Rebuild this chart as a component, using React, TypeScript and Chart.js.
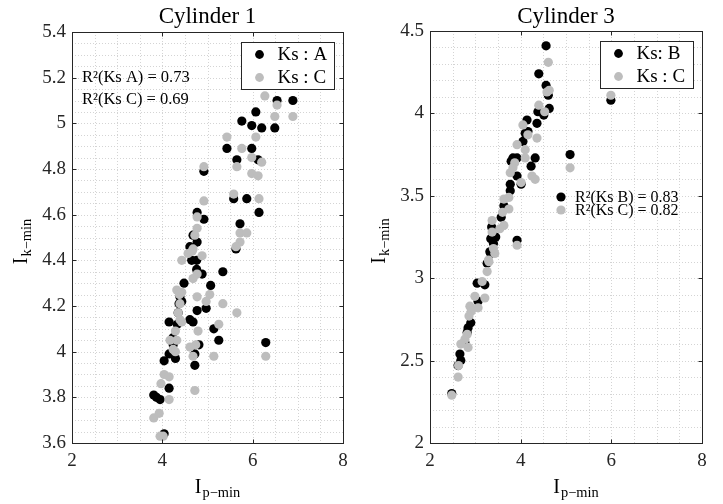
import React, { useEffect, useRef } from "react";
import { Chart, registerables } from "chart.js";

Chart.register(...registerables);

const FONT = "'Liberation Serif', 'DejaVu Serif', serif";
Chart.defaults.font.family = FONT;
const TEXT = "#262626";
const BLACK = "#000000";
const GRAY = "#bdbdbd";

// ---------- Cylinder 1 ----------
const cyl1TitleText = "Cylinder 1";
const cyl1KsA_x = [6.54, 6.89, 6.07, 5.76, 5.98, 6.2, 6.49, 5.43, 5.98, 5.65, 6.12, 4.92, 5.58, 5.87, 6.14, 4.77, 4.92, 5.72, 4.68, 4.61, 4.77, 5.63, 4.65, 4.76, 4.76, 5.34, 4.88, 4.48, 5.07, 4.39, 4.43, 4.37, 4.97, 4.77, 4.35, 4.61, 4.15, 4.68, 4.33, 5.14, 4.23, 5.25, 4.81, 6.29, 4.24, 4.15, 4.72, 4.29, 4.04, 4.72, 4.15, 3.81, 3.95, 3.87, 4.04];
const cyl1KsA_y = [5.1, 5.1, 5.05, 5.01, 4.99, 4.98, 4.98, 4.89, 4.89, 4.84, 4.84, 4.79, 4.67, 4.67, 4.61, 4.61, 4.58, 4.56, 4.51, 4.46, 4.48, 4.45, 4.4, 4.4, 4.36, 4.35, 4.34, 4.3, 4.29, 4.24, 4.22, 4.21, 4.19, 4.18, 4.17, 4.14, 4.13, 4.13, 4.12, 4.1, 4.06, 4.05, 4.03, 4.04, 4.03, 3.99, 3.99, 3.97, 3.96, 3.94, 3.84, 3.81, 3.79, 3.8, 3.64];
const cyl1KsC_x = [6.27, 6.54, 6.49, 6.89, 5.43, 6.07, 5.76, 5.98, 6.2, 5.65, 4.92, 5.98, 6.12, 5.58, 6.14, 4.92, 4.77, 5.72, 5.87, 4.77, 4.72, 5.72, 5.63, 4.68, 4.57, 4.43, 4.88, 4.66, 4.68, 4.77, 4.32, 4.43, 4.38, 5.05, 4.77, 4.97, 5.34, 4.39, 5.65, 4.35, 4.39, 4.43, 5.25, 4.29, 4.79, 4.17, 4.32, 4.74, 4.61, 4.24, 4.29, 5.14, 4.68, 6.29, 4.04, 4.15, 3.97, 4.72, 4.15, 3.93, 3.81, 3.95, 4.02];
const cyl1KsC_y = [5.12, 5.08, 5.03, 5.03, 4.94, 4.94, 4.89, 4.85, 4.83, 4.81, 4.81, 4.78, 4.77, 4.69, 4.67, 4.66, 4.59, 4.52, 4.52, 4.54, 4.51, 4.48, 4.46, 4.45, 4.43, 4.4, 4.42, 4.44, 4.32, 4.34, 4.27, 4.26, 4.25, 4.25, 4.24, 4.22, 4.21, 4.21, 4.17, 4.17, 4.14, 4.13, 4.12, 4.09, 4.09, 4.05, 4.05, 4.03, 4.02, 4.01, 4.0, 3.98, 3.98, 3.98, 3.9, 3.89, 3.86, 3.83, 3.79, 3.73, 3.71, 3.63, 3.63];
const cyl1Legend = ["Ks : A", "Ks : C"];
const cyl1Notes = ["R\u00b2(Ks A) = 0.73", "R\u00b2(Ks C) = 0.69"];

// ---------- Cylinder 3 ----------
const cyl3TitleText = "Cylinder 3";
const cyl3KsB_x = [4.56, 4.4, 4.56, 4.61, 4.63, 4.51, 4.38, 5.99, 4.14, 4.36, 4.16, 4.1, 4.05, 5.09, 3.83, 3.92, 4.32, 3.79, 4.23, 3.92, 4.01, 3.77, 3.77, 3.63, 3.57, 3.36, 3.34, 3.45, 3.92, 3.4, 3.32, 3.26, 3.34, 3.04, 3.21, 3.06, 2.9, 2.84, 2.82, 2.77, 2.66, 2.68, 2.62, 2.48];
const cyl3KsB_y = [4.41, 4.24, 4.17, 4.11, 4.03, 3.99, 4.01, 4.08, 3.96, 3.94, 3.89, 3.88, 3.83, 3.75, 3.73, 3.73, 3.73, 3.71, 3.68, 3.62, 3.57, 3.57, 3.53, 3.44, 3.37, 3.31, 3.24, 3.25, 3.23, 3.21, 3.16, 3.09, 3.15, 2.97, 2.96, 2.86, 2.73, 2.7, 2.67, 2.61, 2.54, 2.5, 2.47, 2.3];
const cyl3KsC_x = [4.61, 4.58, 4.63, 5.99, 4.4, 4.53, 4.05, 4.16, 4.36, 3.92, 4.1, 5.09, 4.1, 3.87, 3.83, 3.77, 4.25, 4.32, 4.01, 3.74, 3.63, 3.74, 3.6, 3.63, 3.54, 3.37, 3.37, 3.92, 3.4, 3.29, 3.43, 3.3, 3.26, 3.15, 2.99, 3.21, 3.06, 2.88, 2.91, 2.86, 2.82, 2.77, 2.68, 2.84, 2.63, 2.62, 2.48];
const cyl3KsC_y = [4.31, 4.13, 4.14, 4.11, 4.05, 4.01, 3.93, 3.87, 3.85, 3.81, 3.78, 3.67, 3.73, 3.7, 3.67, 3.64, 3.62, 3.6, 3.58, 3.49, 3.48, 3.42, 3.4, 3.32, 3.3, 3.35, 3.28, 3.2, 3.18, 3.11, 3.15, 3.1, 3.04, 2.98, 2.89, 2.88, 2.82, 2.83, 2.8, 2.77, 2.66, 2.63, 2.6, 2.58, 2.47, 2.4, 2.29];
const cyl3Legend = ["Ks: B", "Ks : C"];
const cyl3Notes = ["R\u00b2(Ks B) = 0.83", "R\u00b2(Ks C) = 0.82"];

// ---------- shared axis text ----------
const xAxisMain = "I";
const xAxisSub = "p\u2212min";
const yAxisMain = "I";
const yAxisSub = "k\u2212min";

type Panel = {
  title: string;
  xs: number[][];
  ys: number[][];
  legend: string[];
  notes: string[];
  notesWithMarkers: boolean;
  yMin: number;
  yMax: number;
  yMajor: number;
  yMinor: number;
  canvasLeft: number;
  canvasWidth: number;
  areaLeft: number;
  areaRight: number;
  areaTop: number;
};

function toPoints(xs: number[], ys: number[]) {
  return xs.map((x, i) => ({ x, y: ys[i] }));
}

function drawSub(
  ctx: CanvasRenderingContext2D,
  main: string,
  sub: string,
  cx: number,
  baseline: number,
  size: number
) {
  ctx.font = `${size}px ${FONT}`;
  const wMain = ctx.measureText(main).width;
  ctx.font = `${size * 0.72}px ${FONT}`;
  const wSub = ctx.measureText(sub).width;
  const start = cx - (wMain + wSub + 1) / 2;
  ctx.textAlign = "left";
  ctx.textBaseline = "alphabetic";
  ctx.font = `${size}px ${FONT}`;
  ctx.fillText(main, start, baseline);
  ctx.font = `${size * 0.72}px ${FONT}`;
  ctx.fillText(sub, start + wMain + 1, baseline + size * 0.22);
}

function makeDecor(p: Panel) {
  return {
    id: "decor",
    beforeDatasetsDraw(chart: any) {
      const { ctx, chartArea } = chart;
      const xs = chart.scales.x;
      const ys = chart.scales.y;
      ctx.save();
      ctx.strokeStyle = "#d4d4d4";
      ctx.lineWidth = 1;
      ctx.setLineDash([1, 2]);
      for (let v = 2; v <= 8 + 1e-9; v += 0.5) {
        const px = Math.round(xs.getPixelForValue(v)) + 0.5;
        ctx.beginPath();
        ctx.moveTo(px, chartArea.top);
        ctx.lineTo(px, chartArea.bottom);
        ctx.stroke();
      }
      const n = Math.round((p.yMax - p.yMin) / p.yMinor);
      for (let i = 0; i <= n; i++) {
        const v = p.yMin + i * p.yMinor;
        const py = Math.round(ys.getPixelForValue(v)) + 0.5;
        ctx.beginPath();
        ctx.moveTo(chartArea.left, py);
        ctx.lineTo(chartArea.right, py);
        ctx.stroke();
      }
      ctx.restore();
    },
    afterDatasetsDraw(chart: any) {
      const { ctx, chartArea } = chart;
      const xs = chart.scales.x;
      const ys = chart.scales.y;
      const L = Math.round(chartArea.left) + 0.5;
      const R = Math.round(chartArea.right) + 0.5;
      const T = Math.round(chartArea.top) + 0.5;
      const B = Math.round(chartArea.bottom) + 0.5;
      ctx.save();
      ctx.setLineDash([]);
      ctx.strokeStyle = TEXT;
      ctx.lineWidth = 1;
      ctx.strokeRect(L, T, R - L, B - T);
      const tl = 4;
      for (let v = 2; v <= 8 + 1e-9; v += 2) {
        const px = Math.round(xs.getPixelForValue(v)) + 0.5;
        ctx.beginPath();
        ctx.moveTo(px, B);
        ctx.lineTo(px, B - tl);
        ctx.moveTo(px, T);
        ctx.lineTo(px, T + tl);
        ctx.stroke();
      }
      const nm = Math.round((p.yMax - p.yMin) / p.yMajor);
      for (let i = 0; i <= nm; i++) {
        const v = p.yMin + i * p.yMajor;
        const py = Math.round(ys.getPixelForValue(v)) + 0.5;
        ctx.beginPath();
        ctx.moveTo(L, py);
        ctx.lineTo(L + tl, py);
        ctx.moveTo(R, py);
        ctx.lineTo(R - tl, py);
        ctx.stroke();
      }

      // legend box
      const bw = 93;
      const bh = 47;
      const bx = Math.round(chartArea.right - 9 - bw) + 0.5;
      const by = Math.round(chartArea.top + 10) + 0.5;
      ctx.fillStyle = "#ffffff";
      ctx.fillRect(bx, by, bw, bh);
      ctx.strokeStyle = TEXT;
      ctx.strokeRect(bx, by, bw, bh);
      const colors = [BLACK, GRAY];
      ctx.font = `19px ${FONT}`;
      ctx.textAlign = "left";
      ctx.textBaseline = "middle";
      p.legend.forEach((label, i) => {
        const cy = by + 12 + i * 23;
        ctx.fillStyle = colors[i];
        ctx.beginPath();
        ctx.arc(bx + 18, cy, 4.4, 0, Math.PI * 2);
        ctx.fill();
        ctx.fillStyle = "#000";
        ctx.fillText(label, bx + 36, cy + 1);
      });

      // R^2 notes
      if (p.notesWithMarkers) {
        ctx.font = `16px ${FONT}`;
        p.notes.forEach((t, i) => {
          const cy = 197 + i * 13;
          ctx.fillStyle = colors[i];
          ctx.beginPath();
          ctx.arc(chartArea.left + 131, cy, 4.6, 0, Math.PI * 2);
          ctx.fill();
          ctx.fillStyle = "#000";
          ctx.fillText(t, chartArea.left + 145, cy + 1);
        });
      } else {
        ctx.font = `16.5px ${FONT}`;
        ctx.fillStyle = "#000";
        p.notes.forEach((t, i) => {
          ctx.fillText(t, chartArea.left + 10, 78 + i * 22);
        });
      }
      ctx.restore();
    },
    afterDraw(chart: any) {
      const { ctx, chartArea } = chart;
      const cx = (chartArea.left + chartArea.right) / 2;
      ctx.save();
      ctx.fillStyle = "#000";
      ctx.font = `23px ${FONT}`;
      ctx.textAlign = "center";
      ctx.textBaseline = "alphabetic";
      ctx.fillText(p.title, cx, 23);

      drawSub(ctx, xAxisMain, xAxisSub, cx + 10, 493, 20);

      const cy = (chartArea.top + chartArea.bottom) / 2;
      ctx.translate(chartArea.left - 45, cy + 4);
      ctx.rotate(-Math.PI / 2);
      drawSub(ctx, yAxisMain, yAxisSub, 0, 0, 20);
      ctx.restore();
    },
  };
}

function ScatterPanel({ p }: { p: Panel }) {
  const ref = useRef<HTMLCanvasElement | null>(null);
  useEffect(() => {
    if (!ref.current) return;
    const tickFont = { family: FONT, size: 19 };
    const chart = new Chart(ref.current, {
      type: "scatter",
      data: {
        datasets: [
          {
            label: p.legend[0],
            data: toPoints(p.xs[0], p.ys[0]),
            backgroundColor: BLACK,
            borderColor: BLACK,
            pointRadius: 4.6,
            borderWidth: 0,
            order: 2,
          },
          {
            label: p.legend[1],
            data: toPoints(p.xs[1], p.ys[1]),
            backgroundColor: GRAY,
            borderColor: GRAY,
            pointRadius: 4.6,
            borderWidth: 0,
            order: 1,
          },
        ],
      },
      options: {
        animation: false,
        responsive: false,
        maintainAspectRatio: false,
        events: [],
        layout: {
          padding: {
            top: p.areaTop,
            right: p.canvasWidth - p.areaRight,
            left: 0,
            bottom: 0,
          },
        },
        plugins: {
          legend: { display: false },
          tooltip: { enabled: false },
          title: { display: false },
        },
        scales: {
          x: {
            type: "linear",
            min: 2,
            max: 8,
            afterFit: (s: any) => {
              s.height = 504 - 443;
            },
            ticks: {
              stepSize: 2,
              font: tickFont,
              color: TEXT,
              padding: 7,
              maxRotation: 0,
              maxTicksLimit: 50,
            },
            grid: { display: false, drawTicks: false, tickLength: 0 },
            border: { display: false },
          },
          y: {
            type: "linear",
            min: p.yMin,
            max: p.yMax,
            afterFit: (s: any) => {
              s.width = p.areaLeft;
            },
            ticks: {
              stepSize: p.yMajor,
              font: tickFont,
              color: TEXT,
              padding: 6,
              maxTicksLimit: 50,
              callback: (v: any) => String(Math.round(Number(v) * 10) / 10),
            },
            grid: { display: false, drawTicks: false, tickLength: 0 },
            border: { display: false },
          },
        },
      },
      plugins: [makeDecor(p)],
    });
    return () => chart.destroy();
  }, [p]);
  return (
    <canvas
      ref={ref}
      width={p.canvasWidth}
      height={504}
      style={{
        position: "absolute",
        left: p.canvasLeft,
        top: 0,
        width: p.canvasWidth,
        height: 504,
      }}
    />
  );
}

const panel1: Panel = {
  title: cyl1TitleText,
  xs: [cyl1KsA_x, cyl1KsC_x],
  ys: [cyl1KsA_y, cyl1KsC_y],
  legend: cyl1Legend,
  notes: cyl1Notes,
  notesWithMarkers: false,
  yMin: 3.6,
  yMax: 5.4,
  yMajor: 0.2,
  yMinor: 0.05,
  canvasLeft: 0,
  canvasWidth: 361,
  areaLeft: 72,
  areaRight: 343,
  areaTop: 32,
};

const panel2: Panel = {
  title: cyl3TitleText,
  xs: [cyl3KsB_x, cyl3KsC_x],
  ys: [cyl3KsB_y, cyl3KsC_y],
  legend: cyl3Legend,
  notes: cyl3Notes,
  notesWithMarkers: true,
  yMin: 2,
  yMax: 4.5,
  yMajor: 0.5,
  yMinor: 0.1,
  canvasLeft: 361,
  canvasWidth: 362,
  areaLeft: 69,
  areaRight: 341,
  areaTop: 31,
};

export default function App() {
  return (
    <div
      style={{
        position: "absolute",
        left: 0,
        top: 0,
        width: 723,
        height: 504,
        background: "#ffffff",
        overflow: "hidden",
      }}
    >
      <ScatterPanel p={panel1} />
      <ScatterPanel p={panel2} />
    </div>
  );
}
